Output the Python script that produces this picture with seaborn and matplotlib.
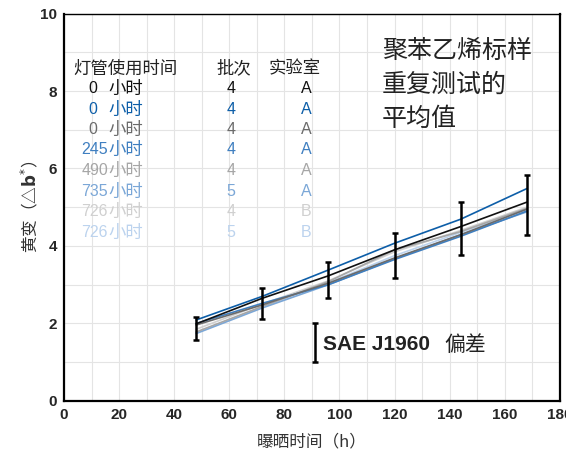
import numpy as np
import pandas as pd
import matplotlib
matplotlib.use("Agg")
import matplotlib.pyplot as plt
from matplotlib.ticker import MultipleLocator
import seaborn as sns

# exposure hours
hours = [48, 72, 96, 120, 144, 168]

# legend table
lamp_hours = ["0", "0", "0", "245", "490", "735", "726", "726"]
batches = ["4", "4", "4", "4", "4", "5", "4", "5"]
labs = ["A", "A", "A", "A", "A", "A", "B", "B"]
series_names = [f"{h}h-{b}-{l}-{i}" for i, (h, b, l) in enumerate(zip(lamp_hours, batches, labs))]
colors = ["#111111", "#0d5ea8", "#6b6b6b", "#3f7fc0",
          "#a6a6a6", "#7ba7d7", "#d0d0d0", "#bcd3ee"]

# yellowing (delta b*) per series
db_black = [1.99, 2.65, 3.23, 3.90, 4.50, 5.13]
db_blue = [2.09, 2.70, 3.38, 4.07, 4.69, 5.48]
db_gray = [1.96, 2.48, 3.04, 3.69, 4.29, 4.95]
db_245 = [2.00, 2.52, 3.00, 3.65, 4.25, 4.90]
db_490 = [1.78, 2.44, 3.08, 3.90, 4.37, 4.97]
db_735 = [1.74, 2.40, 3.00, 3.67, 4.29, 4.88]
db_726a = [1.85, 2.50, 3.10, 3.85, 4.40, 5.00]
db_726b = [1.76, 2.42, 3.05, 3.75, 4.35, 4.93]
all_db = [db_black, db_blue, db_gray, db_245, db_490, db_735, db_726a, db_726b]

# SAE J1960 deviation bars
err_center = [1.87, 2.52, 3.12, 3.76, 4.45, 5.06]
err_half = [0.29, 0.40, 0.47, 0.58, 0.68, 0.77]

rows = []
for name, vals in zip(series_names, all_db):
    for h, v in zip(hours, vals):
        rows.append({"series": name, "hours": h, "db": v})
df = pd.DataFrame(rows)

sns.set_style("whitegrid")
plt.rcParams["font.family"] = ["Liberation Sans", "Noto Sans CJK SC", "DejaVu Sans"]

fig = plt.figure(figsize=(5.66, 4.51), dpi=100)
ax = fig.add_axes([0.113, 0.111, 0.876, 0.859])

# draw lighter series first so dark ones sit on top
order = series_names[::-1]
sns.lineplot(data=df, x="hours", y="db", hue="series", hue_order=order,
             palette=dict(zip(series_names, colors)), linewidth=1.2,
             legend=False, ax=ax, zorder=3)

ax.errorbar(hours, err_center, yerr=err_half, fmt="none", ecolor="black",
            elinewidth=1.8, capsize=2.5, capthick=1.8, zorder=4)

# SAE J1960 reference bar
ax.errorbar([91], [1.5], yerr=[0.5], fmt="none", ecolor="black",
            elinewidth=1.8, capsize=2.5, capthick=1.8, zorder=4)
ax.text(94, 1.45, "SAE J1960", fontsize=15, fontweight="bold",
        color="#222222", va="center", ha="left")
ax.text(138.2, 1.45, "偏差", fontsize=15, color="#222222",
        va="center", ha="left", family=["Noto Sans CJK SC"])

ax.text(115.5, 9.38, "聚苯乙烯标样\n重复测试的\n平均值", fontsize=18,
        color="#222222", va="top", ha="left", linespacing=1.42,
        family=["Noto Sans CJK SC"])

# legend table
cjk = ["Noto Sans CJK SC", "DejaVu Sans"]
ax.text(3.3, 8.58, "灯管使用时间", fontsize=12.5, color="#222222",
        va="center", ha="left", family=cjk)
ax.text(61.7, 8.58, "批次", fontsize=12.5, color="#222222",
        va="center", ha="center", family=cjk)
ax.text(83.8, 8.58, "实验室", fontsize=12.5, color="#222222",
        va="center", ha="center", family=cjk)
row_y = [8.06, 7.52, 7.00, 6.49, 5.94, 5.40, 4.88, 4.34]
for y, h, b, l, c in zip(row_y, lamp_hours, batches, labs, colors):
    num_right = 12.2 if h == "0" else 16.0
    ax.text(num_right, y, h, fontsize=11.5, color=c, va="center", ha="right",
            family=["Liberation Sans"])
    ax.text(16.0, y, "小时", fontsize=12.5, color=c, va="center", ha="left",
            family=cjk)
    ax.text(60.6, y, b, fontsize=11.5, color=c, va="center", ha="center",
            family=["Liberation Sans"])
    ax.text(87.8, y, l, fontsize=11.5, color=c, va="center", ha="center",
            family=["Liberation Sans"])

ax.set_xlim(0, 180)
ax.set_ylim(0, 10)
ax.xaxis.set_major_locator(MultipleLocator(20))
ax.xaxis.set_minor_locator(MultipleLocator(10))
ax.yaxis.set_major_locator(MultipleLocator(2))
ax.yaxis.set_minor_locator(MultipleLocator(1))
ax.grid(which="both", color="#e4e4e4", linewidth=0.8)
ax.set_axisbelow(True)

ax.tick_params(axis="both", which="major", direction="inout", length=6,
               width=1.2, color="black", labelsize=11, pad=2)
ax.tick_params(axis="both", which="minor", length=0)
for lab in ax.get_xticklabels() + ax.get_yticklabels():
    lab.set_fontweight("bold")

for side in ["left", "bottom", "right"]:
    ax.spines[side].set_color("black")
    ax.spines[side].set_linewidth(1.6)
ax.spines["top"].set_color("black")
ax.spines["top"].set_linewidth(1.0)

ax.set_xlabel("曝晒时间（h）", fontsize=12, color="#333333",
              family=cjk, labelpad=8)
ax.set_ylabel("黄变（△$\\mathbf{b}^{*}$）", fontsize=12, color="#333333",
              family=cjk, labelpad=0)

fig.savefig("out.png", dpi=100)
